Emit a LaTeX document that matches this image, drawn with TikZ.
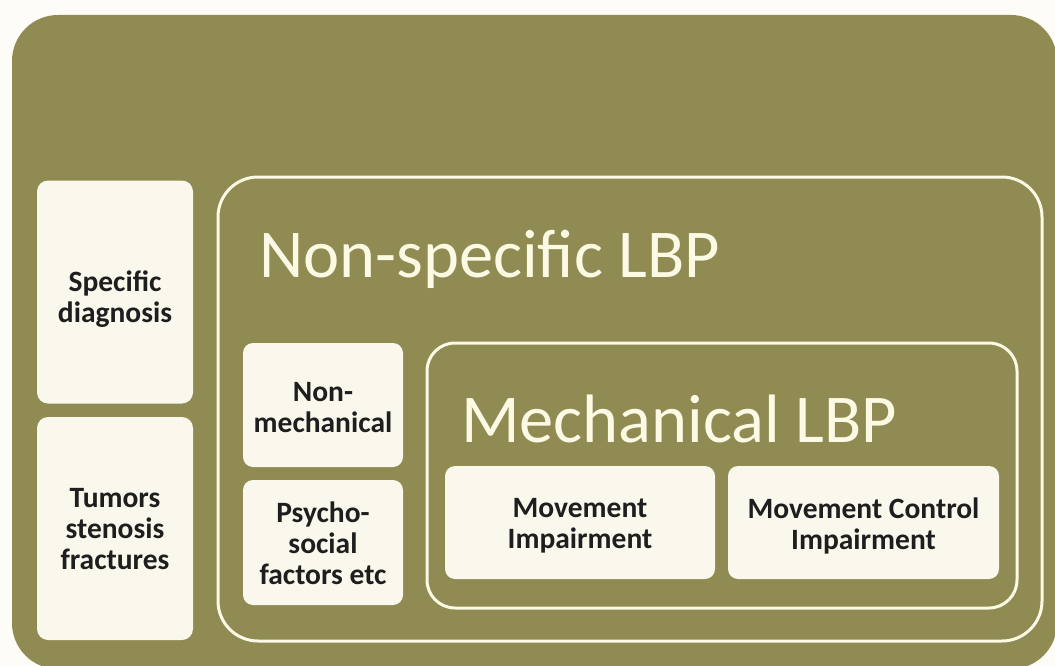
\documentclass[tikz,border=0pt]{standalone}
\usepackage{fontspec}
\setmainfont{Carlito}
\definecolor{olive}{RGB}{143,139,82}
\definecolor{cream}{RGB}{250,248,236}
\definecolor{lineW}{RGB}{252,249,228}
\definecolor{txt}{RGB}{30,30,30}
\definecolor{bg}{RGB}{253,252,246}
\tikzset{
  cbox/.style={fill=cream, draw=none, rounded corners=11pt, inner sep=0pt, outer sep=0pt},
  ctext/.style={inner sep=0pt, align=center, text=txt, font=\bfseries\fontsize{29.5}{31}\selectfont},
  frame/.style={draw=lineW, line width=3pt, fill=none, inner sep=0pt, outer sep=0pt},
  title/.style={anchor=base west, inner sep=0pt, text=lineW, font=\fontsize{68.5}{80}\selectfont}
}
\begin{document}
\begin{tikzpicture}[x=1pt,y=-1pt]
\useasboundingbox (0,0) rectangle (1055,666);
\fill[bg] (0,0) rectangle (1055,666);
\fill[olive, rounded corners=46pt] (12,15) rectangle (1057,669);
% left column
\node[cbox, minimum width=156pt, minimum height=223pt] (spec) at (115,292) {};
\node[ctext, yshift=-7pt] (spect) at (spec.center) {Specific\\diagnosis};
\node[cbox, minimum width=156pt, minimum height=223pt] (tum) at (115,528.5) {};
\node[ctext, yshift=-1pt] (tumt) at (tum.center) {Tumors\\stenosis\\fractures};
% non-specific frame
\node[frame, rounded corners=40pt, minimum width=824pt, minimum height=464pt] (nonspec) at (630,409) {};
\node[title] (nstitle) at (259,277) {Non-specific LBP};
\node[cbox, rounded corners=10pt, minimum width=160pt, minimum height=124pt] (nonmech) at (323,405) {};
\node[ctext, yshift=-3pt] (nonmecht) at (nonmech.center) {Non-\\mechanical};
\node[cbox, rounded corners=10pt, minimum width=160pt, minimum height=125pt] (psycho) at (323,542.5) {};
\node[ctext, yshift=-1pt] (psychot) at (psycho.center) {Psycho-\\social\\factors etc};
% mechanical frame
\node[frame, rounded corners=28pt, minimum width=590pt, minimum height=265pt] (mech) at (722,475.5) {};
\node[title] (mtitle) at (461,442) {Mechanical LBP};
\node[cbox, rounded corners=10pt, minimum width=270pt, minimum height=113pt] (mi) at (580,522.5) {};
\node[ctext, yshift=-3pt] (mit) at (mi.center) {Movement\\Impairment};
\node[cbox, rounded corners=10pt, minimum width=271pt, minimum height=113pt] (mci) at (863.5,522.5) {};
\node[ctext, yshift=-3pt] (mcit) at (mci.center) {Movement Control\\Impairment};
\end{tikzpicture}
\end{document}
